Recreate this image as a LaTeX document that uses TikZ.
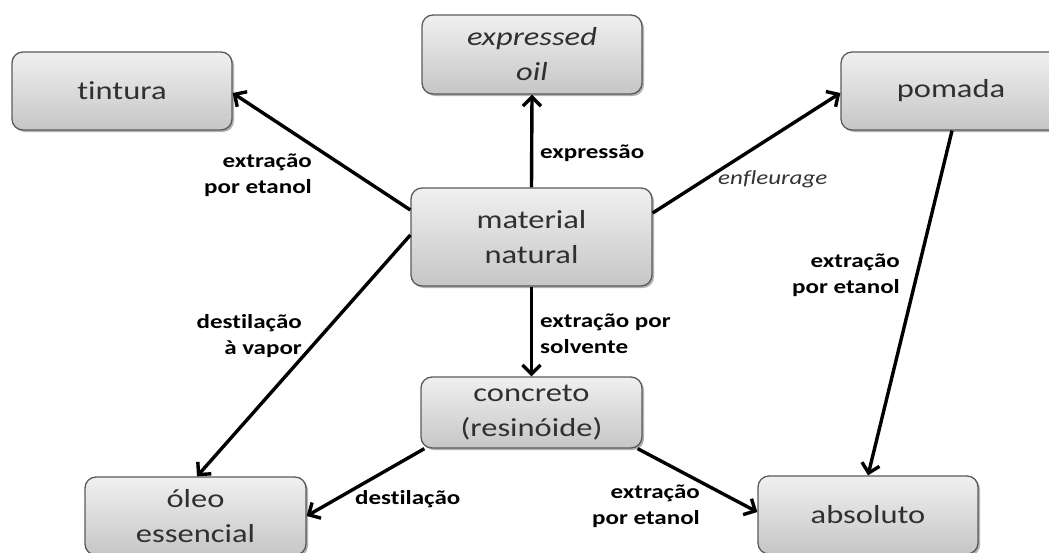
\documentclass[tikz,border=0pt]{standalone}
\usepackage{fontspec}
\setmainfont{Carlito}[FakeStretch=1.25,Ligatures={NoCommon,NoContextual}]
\usetikzlibrary{arrows.meta,shadows,calc}
\definecolor{boxtop}{HTML}{F0F0F0}
\definecolor{boxbot}{HTML}{C6C6C6}
\definecolor{boxborder}{HTML}{5A5A5A}
\definecolor{boxtext}{HTML}{303030}
\newcommand\boxfont{\fontsize{26}{35}\selectfont}
\newcommand\labfont{\fontsize{20}{26}\selectfont\bfseries}
\tikzset{
  box/.style={draw=boxborder, line width=1.3pt, rounded corners=11pt,
    top color=boxtop, bottom color=boxbot, text=boxtext, font=\boxfont,
    align=center, inner sep=0pt,
    drop shadow={shadow xshift=2pt, shadow yshift=-2pt, opacity=0.3, fill=black}},
  arr/.style={line width=3.4pt, -{Straight Barb[length=9pt,width=18pt]}},
  lab/.style={font=\labfont, inner sep=0pt, text=black},
}
\begin{document}
\begin{tikzpicture}[x=1pt,y=-1pt]
\useasboundingbox (0,0) rectangle (1049,552);
\node[box, minimum width=220pt, minimum height=78pt] (tin) at (122,91) {tintura};
\node[box, minimum width=220pt, minimum height=79pt, font=\boxfont\itshape] (exp) at (532,54.5) {expressed\\oil};
\node[box, minimum width=220pt, minimum height=78pt] (pom) at (951,91) {pomada};
\node[box, minimum width=241pt, minimum height=98pt] (mat) at (531.5,237) {material\\natural};
\node[box, minimum width=221pt, minimum height=71pt] (con) at (531.5,412.5) {concreto\\(resinóide)};
\node[box, minimum width=221pt, minimum height=78pt] (ole) at (195.5,516) {óleo\\essencial};
\node[box, minimum width=220pt, minimum height=78pt] (abs) at (868,515) {absoluto};

\draw[arr] ([yshift=27pt]mat.west) -- ([yshift=-2pt]tin.east);
\draw[arr] (mat.north) -- (exp.south);
\draw[arr] ([yshift=24pt]mat.east) -- ([yshift=-2pt]pom.west);
\draw[arr] ([yshift=2pt]mat.west) -- ([xshift=1.5pt]ole.north);
\draw[arr] (mat.south) -- (con.north);
\draw[arr] ([xshift=4pt]con.south west) -- (ole.east);
\draw[arr] ([xshift=-5pt]con.south east) -- ([yshift=3pt]abs.west);
\draw[arr] ([xshift=1pt]pom.south) -- (abs.north);

\node[lab, align=right, anchor=east] (l1) at (312,175) {extração\\por etanol};
\node[lab, anchor=base west] (l2) at (540,158) {expressão};
\node[lab, anchor=base west, font=\fontsize{20}{26}\selectfont\itshape, text=black!80] (l3) at (718,184) {enfleurage};
\node[lab, align=right, anchor=east] (l4) at (900,275) {extração\\por etanol};
\node[lab, align=right, anchor=east] (l5) at (302,336) {destilação\\à vapor};
\node[lab, align=left, anchor=west] (l6) at (540,334) {extração por\\solvente};
\node[lab, anchor=base west] (l7) at (355,504) {destilação};
\node[lab, align=right, anchor=east] (l8) at (700,506) {extração\\por etanol};
\end{tikzpicture}
\end{document}
